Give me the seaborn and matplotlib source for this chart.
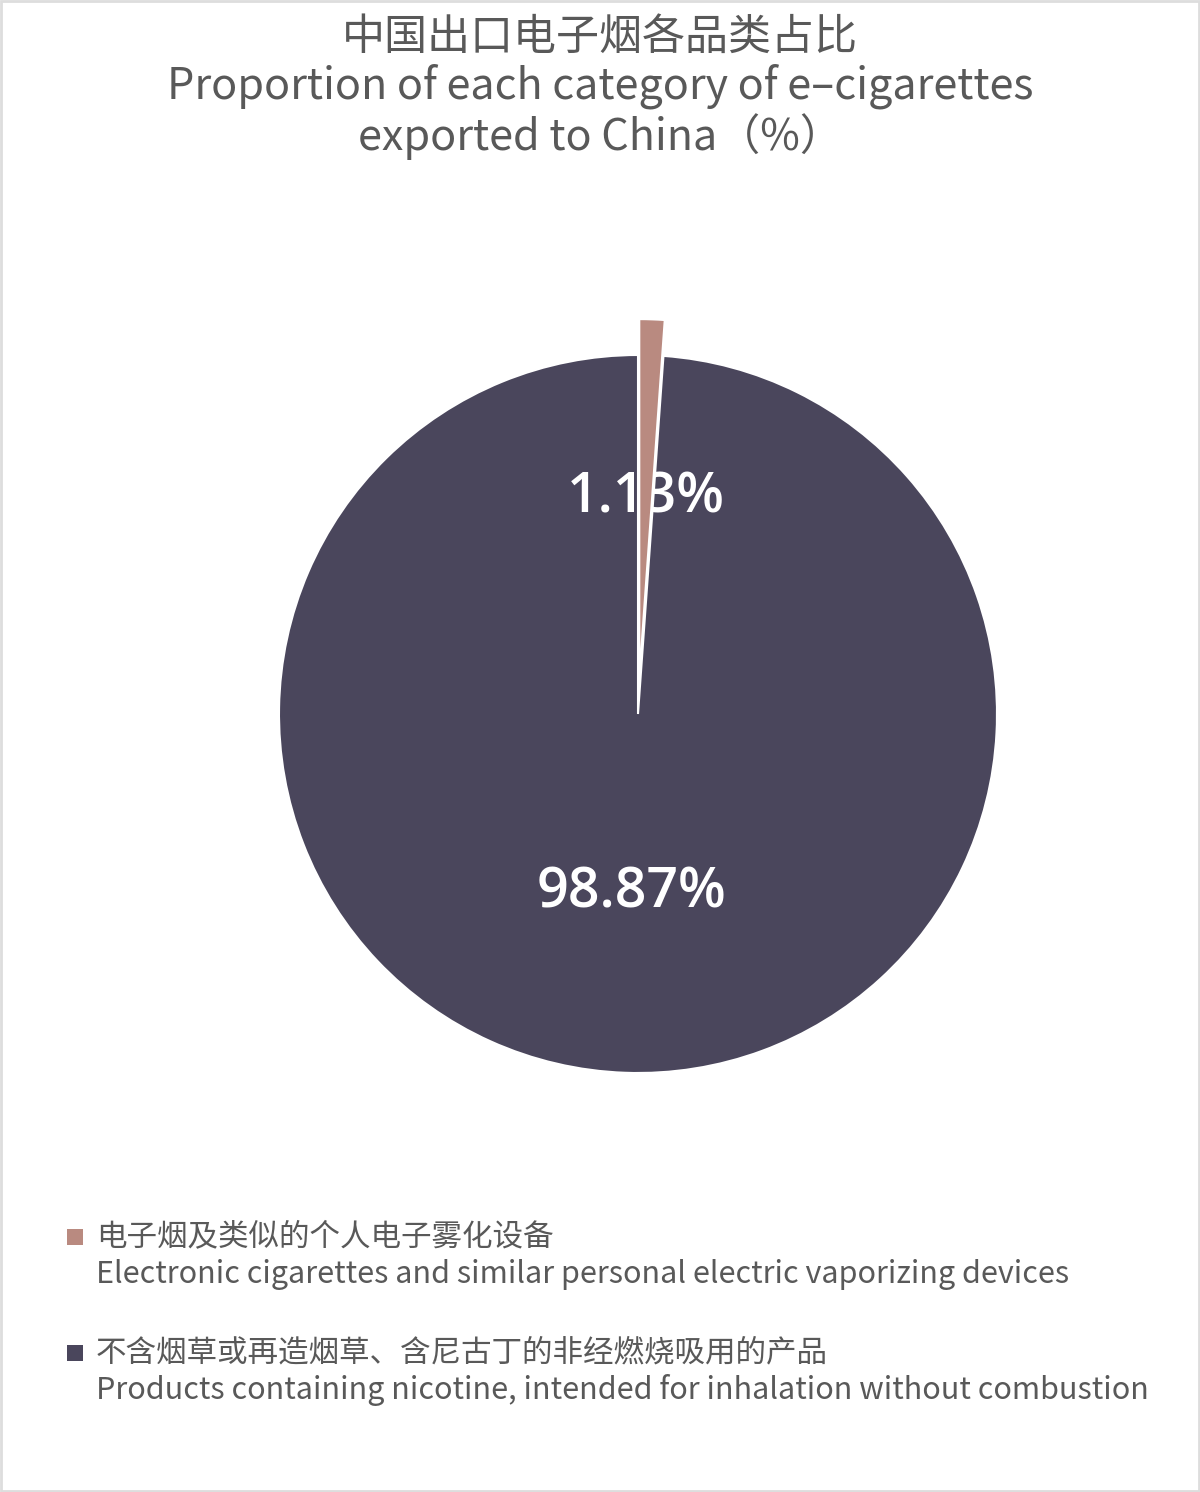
import matplotlib.pyplot as plt
import matplotlib.patches as mpatches
import seaborn as sns

# data
categories_cn = ['电子烟及类似的个人电子雾化设备',
                 '不含烟草或再造烟草、含尼古丁的非经燃烧吸用的产品']
categories_en = ['Electronic cigarettes and similar personal electric vaporizing devices',
                 'Products containing nicotine, intended for inhalation without combustion']
shares = [1.13, 98.87]
colors = ['#B98A80', '#4A465C']

sns.set_theme(style='white')
plt.rcParams['font.family'] = ['Noto Sans CJK SC', 'DejaVu Sans']
palette = sns.color_palette(colors)

W, H = 1200, 1492
fig = plt.figure(figsize=(W / 100, H / 100), dpi=100)
fig.patch.set_facecolor('white')

# light frame round the picture
fig.patches.append(mpatches.Rectangle((0.001, 0.001), 0.998, 0.998, transform=fig.transFigure,
                                      fill=False, edgecolor='#DDDDDD', linewidth=2))

fig.text(0.5, 1 - 88 / H, '中国出口电子烟各品类占比\nProportion of each category of e–cigarettes\nexported to China（%）',
         ha='center', va='center', fontsize=31, color='#595959', linespacing=1.12)

cx, cy, r = 638, 714, 359
ax = fig.add_axes([(cx - r) / W, (H - cy - r) / H, 2 * r / W, 2 * r / H])
wedges, texts, autotexts = ax.pie(
    shares, colors=palette, startangle=90, counterclock=False,
    explode=[0.1, 0], autopct='%.2f%%', pctdistance=0.5,
    wedgeprops=dict(edgecolor='white', linewidth=1.5),
    textprops=dict(color='white', fontsize=40, fontweight='semibold',
                   family=['Open Sans', 'DejaVu Sans']))
ax.set_xlim(-1, 1)
ax.set_ylim(-1, 1)
ax.set_aspect('equal')
ax.axis('off')
wedges[1].set_zorder(1)
for t in autotexts:
    t.set_zorder(2)
wedges[0].set_zorder(3)

# legend: square plus Chinese line and English line
for i, (cn, en) in enumerate(zip(categories_cn, categories_en)):
    y0 = 1237 + i * 116
    fig.patches.append(mpatches.Rectangle((67 / W, 1 - (y0 + 8) / H), 16 / W, 16 / H,
                                          transform=fig.transFigure, facecolor=palette[i],
                                          edgecolor='none'))
    fig.text(96 / W, 1 - y0 / H, cn, ha='left', va='center', fontsize=22, color='#595959')
    fig.text(96 / W, 1 - (y0 + 37) / H, en, ha='left', va='center', fontsize=22, color='#595959')

fig.savefig('out.png', dpi=100)
